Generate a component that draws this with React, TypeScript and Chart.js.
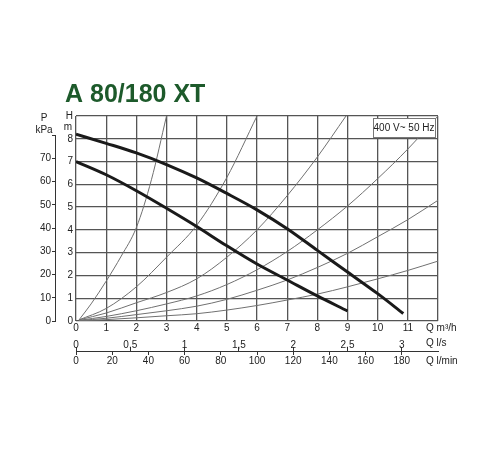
import { useEffect, useRef } from 'react';
import { Chart, registerables } from 'chart.js';

Chart.register(...registerables);

// pump curves, Q in m³/h, H in m
const pumpHigh = [[0, 8.2], [1, 7.8], [2, 7.38], [3, 6.87], [4, 6.28], [5, 5.6], [6, 4.88], [7, 4.05], [8, 3.1], [9, 2.15], [10, 1.2], [10.85, 0.33]];
const pumpLow = [[0, 7.0], [1, 6.42], [2, 5.72], [3, 4.95], [4, 4.15], [5, 3.3], [6, 2.5], [7, 1.8], [8, 1.1], [9, 0.44]];

// thin system curves
const sys1 = [[0.1, 0.05], [0.5, 0.75], [1, 1.75], [1.5, 2.85], [2, 4.1], [2.5, 6.2], [3, 9]];
const sys2 = [[0.1, 0.05], [1, 0.55], [2, 1.5], [3, 2.8], [4, 4.2], [5, 6.3], [6, 9]];
const sys3 = [[0.1, 0.05], [1, 0.35], [2, 0.8], [3, 1.25], [4, 1.85], [5, 2.8], [6, 4.0], [7, 5.5], [8, 7.2], [8.95, 9]];
const sys4 = [[0.1, 0.03], [1, 0.2], [2, 0.45], [3, 0.75], [4, 1.1], [5, 1.6], [6, 2.25], [7, 3.05], [8, 4.0], [9, 5.05], [10, 6.25], [11, 7.55], [12, 9.0]];
const sys5 = [[0.1, 0.02], [1, 0.12], [2, 0.28], [3, 0.45], [4, 0.65], [5, 0.95], [6, 1.35], [7, 1.8], [8, 2.35], [9, 2.97], [10, 3.7], [11, 4.45], [12, 5.3]];
const sys6 = [[0.1, 0.01], [1, 0.06], [2, 0.14], [3, 0.23], [4, 0.32], [5, 0.48], [6, 0.68], [7, 0.92], [8, 1.18], [9, 1.5], [10, 1.85], [11, 2.22], [12, 2.63]];

const qTicks = [0, 1, 2, 3, 4, 5, 6, 7, 8, 9, 10, 11, 12];
const qLabels = ['0', '1', '2', '3', '4', '5', '6', '7', '8', '9', '10', '11', ''];
const lsTicks = [0, 0.5, 1, 1.5, 2, 2.5, 3];
const lsLabels = ['0', '0,5', '1', '1,5', '2', '2,5', '3'];
const lminTicks = [0, 20, 40, 60, 80, 100, 120, 140, 160, 180];
const hTicks = [0, 1, 2, 3, 4, 5, 6, 7, 8, 9];
const hLabels = ['0', '1', '2', '3', '4', '5', '6', '7', '8', 'H'];
const pTicks = [0, 10, 20, 30, 40, 50, 60, 70, 80];
const pLabels = ['0', '10', '20', '30', '40', '50', '60', '70', ''];

const Q_MAX = 12;
const H_MAX = 9;

const FONT = '"Liberation Sans", Arial, sans-serif';
const tickFont = { family: FONT, size: 10 };
const TEXT = '#222';
const GRID = '#555';

const toXY = (pts: number[][]) => pts.map(([x, y]) => ({ x, y }));
const setTicks = (vals: number[]) => (s: any) => {
  s.ticks = vals.map((v) => ({ value: v }));
};

const extras = {
  id: 'extras',
  afterDatasetsDraw(chart: any) {
    const { ctx, chartArea: ca, scales } = chart;
    ctx.save();
    ctx.fillStyle = '#1d5a2b';
    ctx.font = `bold 25px ${FONT}`;
    ctx.textAlign = 'left';
    ctx.textBaseline = 'alphabetic';
    ctx.fillText('A 80/180 XT', ca.left - 11, ca.top - 14);

    ctx.fillStyle = TEXT;
    ctx.font = `10px ${FONT}`;
    ctx.textBaseline = 'middle';
    ctx.textAlign = 'center';
    const pr = scales.yP.right;
    ctx.fillText('P', pr - 12, ca.top + 2);
    ctx.fillText('kPa', pr - 12, ca.top + 14);
    ctx.textAlign = 'right';
    ctx.fillText('m', ca.left - 4, scales.y.getPixelForValue(8.5));

    ctx.textAlign = 'left';
    ctx.fillText('Q m³/h', ca.right - 12, scales.x.top + 7);
    ctx.fillText('Q l/s', ca.right - 12, scales.xls.top - 8);
    ctx.fillText('Q l/min', ca.right - 12, scales.xlmin.top + 10);

    // P axis line, 0 to 80 kPa
    ctx.strokeStyle = '#333';
    ctx.lineWidth = 1;
    ctx.beginPath();
    ctx.moveTo(pr - 0.5, scales.yP.getPixelForValue(0));
    ctx.lineTo(pr - 0.5, scales.yP.getPixelForValue(80));
    ctx.stroke();

    // supply box
    const bw = 62;
    const bh = 19;
    const bx = ca.right - 3 - bw;
    const by = ca.top + 2;
    ctx.fillStyle = '#fff';
    ctx.fillRect(bx, by, bw, bh);
    ctx.strokeStyle = '#777';
    ctx.strokeRect(bx + 0.5, by + 0.5, bw, bh);
    ctx.fillStyle = TEXT;
    ctx.textAlign = 'center';
    ctx.fillText('400 V~ 50 Hz', bx + bw / 2, by + bh / 2 + 1);
    ctx.restore();
  },
};

const thin = (pts: number[][]) => ({
  data: toXY(pts),
  borderColor: '#707070',
  borderWidth: 1,
  pointRadius: 0,
  cubicInterpolationMode: 'monotone' as const,
});

const thick = (pts: number[][]) => ({
  data: toXY(pts),
  borderColor: '#1a1a1a',
  borderWidth: 3,
  pointRadius: 0,
  cubicInterpolationMode: 'monotone' as const,
});

export default function App() {
  const canvasRef = useRef<HTMLCanvasElement>(null);

  useEffect(() => {
    if (!canvasRef.current) return;
    const chart = new Chart(canvasRef.current, {
      type: 'line',
      data: {
        datasets: [
          thick(pumpHigh),
          thick(pumpLow),
          thin(sys1),
          thin(sys2),
          thin(sys3),
          thin(sys4),
          thin(sys5),
          thin(sys6),
        ],
      },
      options: {
        responsive: false,
        animation: false,
        layout: { padding: { top: 116, left: 30, right: 62, bottom: 81 } },
        plugins: { legend: { display: false }, tooltip: { enabled: false } },
        scales: {
          x: {
            type: 'linear',
            position: 'bottom',
            weight: 0,
            min: 0,
            max: Q_MAX,
            afterBuildTicks: setTicks(qTicks),
            afterFit: (s: any) => { s.height = 30; },
            ticks: { callback: (_v: any, i: number) => qLabels[i], font: tickFont, color: TEXT, padding: 1, autoSkip: false, maxRotation: 0 },
            grid: { color: GRID, lineWidth: 1.3, drawTicks: false },
            border: { display: false },
          },
          xls: {
            type: 'linear',
            position: 'bottom',
            weight: 1,
            min: 0,
            max: Q_MAX / 3.6,
            afterBuildTicks: setTicks(lsTicks),
            afterFit: (s: any) => { s.height = 0; },
            ticks: { callback: (_v: any, i: number) => lsLabels[i], font: tickFont, color: TEXT, mirror: true, padding: 0, autoSkip: false, maxRotation: 0 },
            grid: { drawOnChartArea: false, tickLength: -4, color: '#333' },
            border: { display: false },
          },
          xlmin: {
            type: 'linear',
            position: 'bottom',
            weight: 2,
            min: 0,
            max: (Q_MAX * 1000) / 60,
            afterBuildTicks: setTicks(lminTicks),
            afterFit: (s: any) => { s.height = 18; },
            ticks: { font: tickFont, color: TEXT, padding: 0, autoSkip: false, maxRotation: 0 },
            grid: { drawOnChartArea: false, tickLength: 4, color: '#333' },
            border: { display: true, color: '#333', width: 1 },
          },
          y: {
            type: 'linear',
            position: 'left',
            weight: 0,
            min: 0,
            max: H_MAX,
            afterBuildTicks: setTicks(hTicks),
            afterFit: (s: any) => { s.width = 20; },
            ticks: { callback: (_v: any, i: number) => hLabels[i], font: tickFont, color: TEXT, padding: 3, autoSkip: false },
            grid: { color: GRID, lineWidth: 1.3, drawTicks: false },
            border: { display: false },
          },
          yP: {
            type: 'linear',
            position: 'left',
            weight: 1,
            min: 0,
            max: H_MAX * 9.81,
            afterBuildTicks: setTicks(pTicks),
            afterFit: (s: any) => { s.width = 26; },
            ticks: { callback: (_v: any, i: number) => pLabels[i], font: tickFont, color: TEXT, padding: 1, autoSkip: false },
            grid: { drawOnChartArea: false, tickLength: 4, color: '#333' },
            border: { display: false },
          },
        },
      },
      plugins: [extras],
    });
    return () => chart.destroy();
  }, []);

  return (
    <div style={{ position: 'fixed', left: 0, top: 0, width: 500, height: 450, background: '#fff' }}>
      <canvas ref={canvasRef} width={500} height={450} />
    </div>
  );
}
